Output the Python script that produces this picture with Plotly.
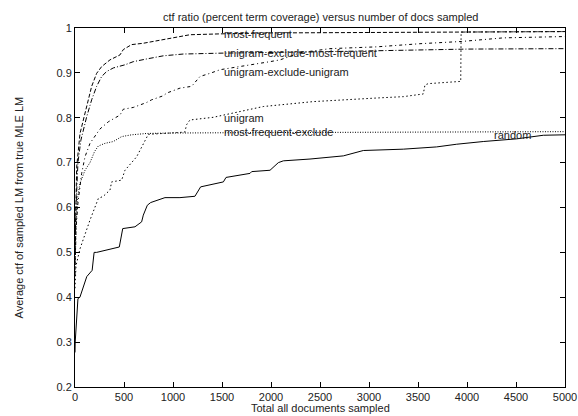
import plotly.graph_objects as go

# ---- data ----
mf_x = [0, 10, 17, 51, 85, 119, 170, 221, 272, 357, 459, 493, 578, 697, 901, 1037, 1173, 1500, 2000, 3000, 4000, 5000]
mf_y = [0.50, 0.62, 0.69, 0.765, 0.795, 0.825, 0.870, 0.899, 0.914, 0.929, 0.940, 0.952, 0.963, 0.966, 0.974, 0.981, 0.985, 0.987, 0.989, 0.990, 0.991, 0.992]

uemf_x = [0, 10, 30, 60, 119, 170, 221, 272, 323, 391, 510, 595, 731, 901, 1105, 1500, 2500, 3500, 4000, 5000]
uemf_y = [0.48, 0.60, 0.70, 0.75, 0.802, 0.840, 0.870, 0.892, 0.903, 0.911, 0.918, 0.925, 0.931, 0.938, 0.942, 0.944, 0.947, 0.950, 0.953, 0.954]

ueu_x = [0, 10, 30, 51, 68, 102, 153, 255, 340, 459, 493, 595, 731, 782, 901, 936, 1071, 1190, 1241, 1276, 1378, 1480, 1990, 2092, 2300, 2602, 3078, 3520, 3946, 4370, 5000]
ueu_y = [0.45, 0.55, 0.61, 0.646, 0.676, 0.713, 0.743, 0.775, 0.791, 0.806, 0.819, 0.823, 0.834, 0.840, 0.849, 0.855, 0.866, 0.870, 0.884, 0.892, 0.899, 0.907, 0.925, 0.929, 0.945, 0.954, 0.958, 0.965, 0.970, 0.978, 0.981]

uni_x = [0, 10, 51, 153, 238, 289, 357, 374, 476, 510, 629, 748, 1120, 1140, 1173, 1411, 1921, 2432, 3078, 3350, 3554, 3571, 3605, 3793, 3936, 3940, 5000]
uni_y = [0.42, 0.47, 0.508, 0.572, 0.620, 0.625, 0.639, 0.657, 0.661, 0.683, 0.713, 0.763, 0.768, 0.785, 0.795, 0.801, 0.825, 0.836, 0.844, 0.847, 0.853, 0.873, 0.876, 0.878, 0.881, 0.991, 0.992]

mfe_x = [0, 10, 25, 51, 102, 153, 200, 238, 306, 391, 476, 578, 731, 1000, 2000, 3000, 5000]
mfe_y = [0.45, 0.55, 0.62, 0.654, 0.683, 0.700, 0.725, 0.737, 0.743, 0.747, 0.758, 0.762, 0.765, 0.766, 0.767, 0.768, 0.769]

rnd_x = [0, 2, 30, 50, 120, 175, 195, 221, 452, 487, 612, 680, 697, 738, 772, 867, 918, 1071, 1224, 1282, 1395, 1514, 1541, 1786, 1803, 1990, 2075, 2126, 2398, 2738, 2942, 3350, 3690, 3895, 4166, 4507, 4779, 5000]
rnd_y = [0.277, 0.30, 0.397, 0.40, 0.446, 0.46, 0.50, 0.50, 0.512, 0.553, 0.557, 0.568, 0.583, 0.605, 0.611, 0.618, 0.622, 0.622, 0.625, 0.646, 0.651, 0.657, 0.667, 0.676, 0.680, 0.683, 0.700, 0.704, 0.708, 0.715, 0.727, 0.730, 0.735, 0.741, 0.747, 0.753, 0.761, 0.762]

label_names = ["most-frequent", "unigram-exclude-most-frequent", "unigram-exclude-unigram",
               "unigram", "most-frequent-exclude", "random"]
label_x = [1500, 1500, 1500, 1500, 1500, 4258]
label_y = [0.987, 0.945, 0.903, 0.800, 0.769, 0.762]

title_text = "ctf ratio (percent term coverage) versus number of docs sampled"
x_title = "Total all documents sampled"
y_title = "Average ctf of sampled LM from true MLE LM"

FONT = "Liberation Sans, Arial, Helvetica, sans-serif"
TXT = "#222222"
FS = 11

series = [
    (mf_x, mf_y, "4px,2px", "most-frequent"),
    (uemf_x, uemf_y, "5px,2px,1px,2px", "unigram-exclude-most-frequent"),
    (ueu_x, ueu_y, "3px,3px,1px,3px", "unigram-exclude-unigram"),
    (uni_x, uni_y, "1.5px,2.5px", "unigram"),
    (mfe_x, mfe_y, "1px,1.5px", "most-frequent-exclude"),
    (rnd_x, rnd_y, "solid", "random"),
]

fig = go.Figure()
for xs, ys, dash, name in series:
    fig.add_trace(go.Scatter(x=xs, y=ys, mode="lines", name=name,
                             line=dict(color="black", width=1, dash=dash),
                             showlegend=False, hoverinfo="skip"))

for name, lx, ly in zip(label_names, label_x, label_y):
    fig.add_annotation(x=lx, y=ly, xref="x", yref="y", text=name, showarrow=False,
                       xanchor="left", yanchor="middle",
                       font=dict(family=FONT, size=FS, color=TXT))

fig.add_annotation(x=0.5, y=1, xref="paper", yref="paper", text=title_text, showarrow=False,
                   xanchor="center", yanchor="middle", yshift=11,
                   font=dict(family=FONT, size=FS, color=TXT))
fig.add_annotation(x=0.5, y=0, xref="paper", yref="paper", text=x_title, showarrow=False,
                   xanchor="center", yanchor="middle", yshift=-21,
                   font=dict(family=FONT, size=FS, color=TXT))
fig.add_annotation(x=0, y=0.5, xref="paper", yref="paper", text=y_title, showarrow=False,
                   xanchor="center", yanchor="middle", xshift=-57, textangle=-90,
                   font=dict(family=FONT, size=FS, color=TXT))

axis_common = dict(showgrid=False, zeroline=False, showline=True, linecolor="black",
                   linewidth=1, mirror="ticks", ticks="inside", ticklen=5,
                   tickcolor="black", tickwidth=1,
                   tickfont=dict(family=FONT, size=FS, color=TXT))

fig.update_xaxes(range=[0, 5000], tick0=0, dtick=500, **axis_common)
fig.update_yaxes(range=[0.2, 1.0], tick0=0.2, dtick=0.1, **axis_common)

fig.update_layout(width=578, height=416, plot_bgcolor="white", paper_bgcolor="white",
                  margin=dict(l=75, r=13, t=28, b=29, autoexpand=False), showlegend=False)

# remove the browser's default body margin so the figure fills the window exactly
fig.write_html("out.html", config={"displayModeBar": False, "staticPlot": True},
               post_script="document.body.style.margin='0';document.body.style.overflow='hidden';")
